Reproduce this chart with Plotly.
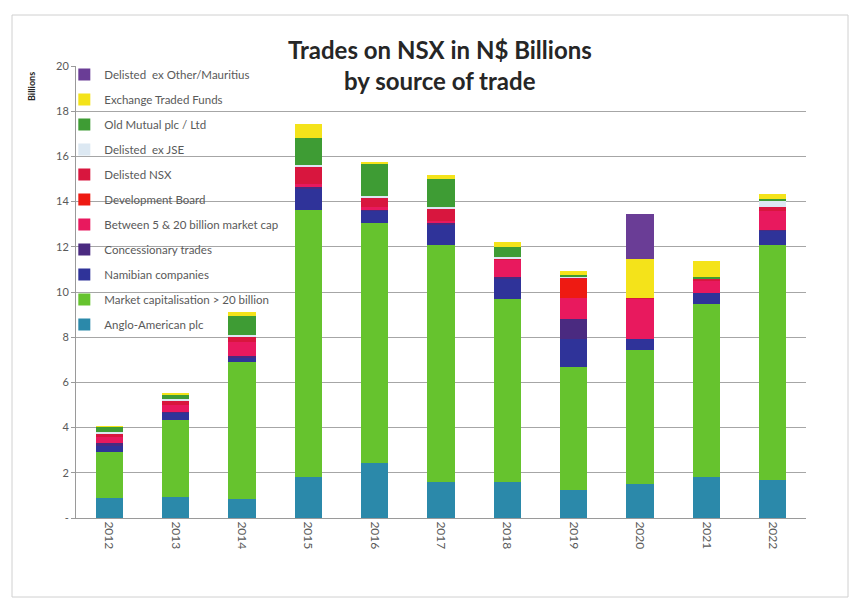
import plotly.graph_objects as go

years = ["2012", "2013", "2014", "2015", "2016", "2017", "2018", "2019", "2020", "2021", "2022"]

anglo        = [0.90, 0.95, 0.82, 1.80, 2.45, 1.60, 1.60, 1.25, 1.50, 1.80, 1.70]
market_cap   = [2.00, 3.40, 6.10, 11.85, 10.60, 10.50, 8.10, 5.45, 5.95, 7.65, 10.40]
namibian     = [0.30, 0.30, 0.20, 0.90, 0.55, 0.90, 0.90, 1.20, 0.45, 0.50, 0.60]
concession   = [0.10, 0.05, 0.03, 0.10, 0.05, 0.05, 0.05, 0.90, 0.00, 0.00, 0.05]
between      = [0.30, 0.30, 0.65, 0.15, 0.10, 0.10, 0.75, 0.95, 1.80, 0.55, 0.85]
dev_board    = [0.00, 0.00, 0.00, 0.00, 0.00, 0.00, 0.00, 0.85, 0.00, 0.00, 0.00]
delisted_nsx = [0.15, 0.20, 0.25, 0.75, 0.45, 0.55, 0.10, 0.05, 0.05, 0.10, 0.15]
delisted_jse = [0.05, 0.05, 0.03, 0.05, 0.05, 0.05, 0.05, 0.05, 0.00, 0.00, 0.30]
old_mutual   = [0.25, 0.20, 0.85, 1.20, 1.40, 1.25, 0.45, 0.05, 0.00, 0.05, 0.05]
etf          = [0.02, 0.10, 0.20, 0.65, 0.12, 0.17, 0.20, 0.20, 1.70, 0.70, 0.25]
delisted_oth = [0.00, 0.00, 0.00, 0.00, 0.00, 0.00, 0.00, 0.00, 2.00, 0.00, 0.00]

series_names = [
    "Anglo-American plc",
    "Market capitalisation > 20 billion",
    "Namibian companies",
    "Concessionary trades",
    "Between 5 & 20 billion market cap",
    "Development Board",
    "Delisted NSX",
    "Delisted  ex JSE",
    "Old Mutual plc / Ltd",
    "Exchange Traded Funds",
    "Delisted  ex Other/Mauritius",
]
series_values = [anglo, market_cap, namibian, concession, between, dev_board,
                 delisted_nsx, delisted_jse, old_mutual, etf, delisted_oth]
series_colors = ["#2B89AA", "#66C32E", "#2F3399", "#4A2A80", "#E8195E", "#EE1A12",
                 "#D8163E", "#DCE8F2", "#3E9C34", "#F4E31A", "#6A3D96"]

ytick_vals = [0, 2, 4, 6, 8, 10, 12, 14, 16, 18, 20]
ytick_text = ["-", "2", "4", "6", "8", "10", "12", "14", "16", "18", "20"]

fig = go.Figure()
for i, (name, vals, col) in enumerate(zip(series_names, series_values, series_colors)):
    fig.add_trace(go.Bar(
        x=years, y=vals, name=name, legendgroup="g%d" % i, legendrank=1000 - i,
        marker=dict(color=col, line=dict(width=0)),
    ))

FONT = "Lato, Liberation Sans, sans-serif"

# page body has an 8px margin, so figure origin sits at (8, 8) in the window
L, T = 68, 58
PW, PH = 730, 452

def px(x):
    return (x - 8 - L) / PW

def py(y):
    return (T + PH + 8 - y) / PH

fig.update_layout(
    width=849, height=590,
    barmode="stack", bargap=0.59,
    paper_bgcolor="white", plot_bgcolor="white",
    margin=dict(l=L, r=849 - L - PW, t=T, b=590 - T - PH),
    font=dict(family=FONT, color="#595959", size=10),
    showlegend=True,
    legend=dict(
        x=px(76) - 0.016, y=1.013, xanchor="left", yanchor="top",
        traceorder="grouped", tracegroupgap=6,
        bgcolor="rgba(0,0,0,0)",
        font=dict(family=FONT, size=11.5, color="#595959"),
        itemwidth=30,
    ),
    xaxis=dict(
        tickangle=90, showgrid=False, showline=True, linecolor="#9a9a9a",
        ticks="", tickfont=dict(size=12, color="#595959"),
    ),
    yaxis=dict(
        range=[0, 20], tickvals=ytick_vals, ticktext=ytick_text,
        showgrid=True, gridcolor="#a6a6a6", gridwidth=1,
        showline=True, linecolor="#9a9a9a", ticks="outside", ticklen=4,
        tickcolor="#9a9a9a", zeroline=False,
        tickfont=dict(size=11, color="#595959"),
    ),
    annotations=[
        dict(text="<b>Trades on NSX in N$ Billions</b>", xref="paper", yref="paper",
             x=px(440), y=py(49), xanchor="center", yanchor="middle",
             showarrow=False, font=dict(family=FONT, size=24, color="#262626")),
        dict(text="<b>by source of trade</b>", xref="paper", yref="paper",
             x=px(440), y=py(80), xanchor="center", yanchor="middle",
             showarrow=False, font=dict(family=FONT, size=24, color="#262626")),
        dict(text="<b>Billions</b>", xref="paper", yref="paper",
             x=px(31), y=py(87), xanchor="center", yanchor="middle",
             textangle=-90, showarrow=False, font=dict(family=FONT, size=9, color="#262626")),
    ],
    shapes=[
        dict(type="rect", xref="paper", yref="paper",
             x0=px(12), x1=px(848), y0=py(597), y1=py(15),
             line=dict(color="#d0d0d0", width=1), fillcolor="rgba(0,0,0,0)", layer="below"),
    ],
)

fig.write_html("out.html")
